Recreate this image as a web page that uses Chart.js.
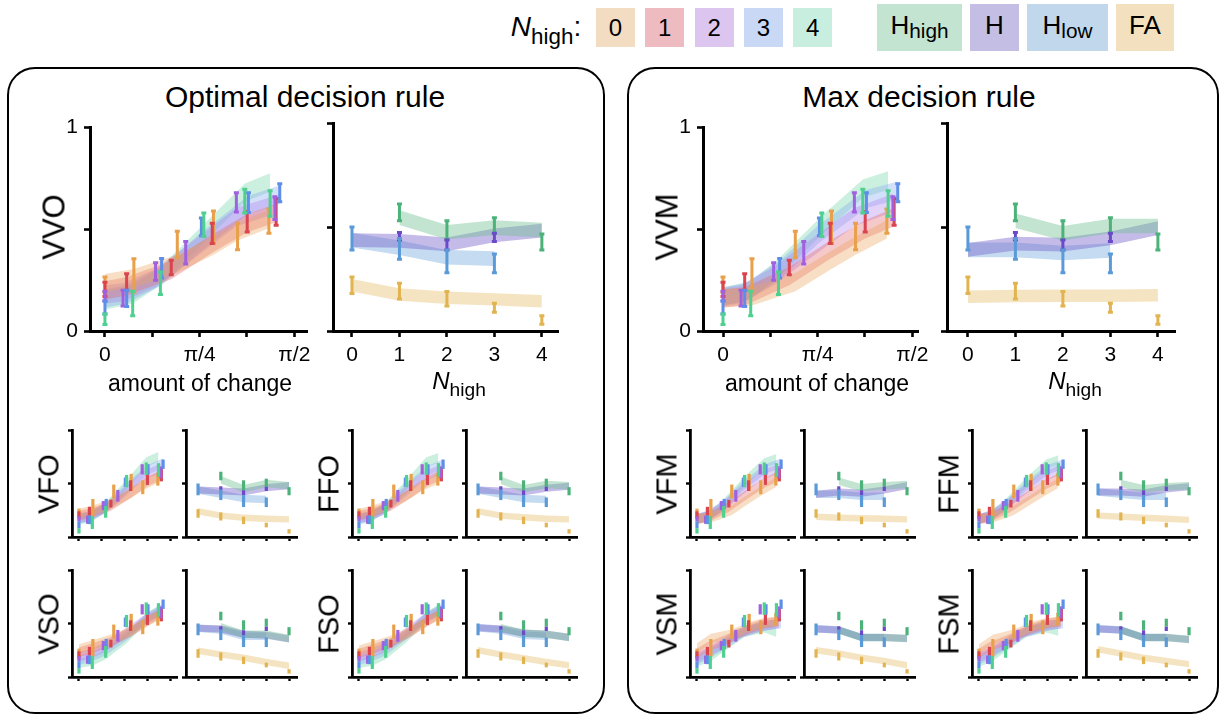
<!DOCTYPE html>
<html>
<head>
<meta charset="utf-8">
<script src="https://cdn.jsdelivr.net/npm/chart.js@4"></script>
<style>
  body { margin: 0; background: #fff; width: 1225px; height: 717px; overflow: hidden; position: relative;
         font-family: "Liberation Sans", Arial, Helvetica, sans-serif; color: #000; }
  .abs { position: absolute; }
  .panel { position: absolute; border: 2px solid #000; border-radius: 28px; box-sizing: border-box; }
  .t { position: absolute; white-space: nowrap; line-height: 1; transform: translate(-50%, -50%); }
  .rot { transform: translate(-50%, -50%) rotate(-90deg); }
  .key { position: absolute; display: flex; align-items: center; justify-content: center; line-height: 1; white-space: nowrap; }
  .sb { font-size: 0.8em; position: relative; top: 0.34em; }
</style>
</head>
<body>
<script>
// ---- human data (same in every panel) ----
const nhGroups = ['0', '1', '2', '3', '4'];
// amount of change (radians) per N_high group
const changeX = [
  [0, 0.24, 0.60, 0.90, 1.10, 1.36],
  [0, 0.18, 0.55, 0.89, 1.18, 1.42],
  [0, 0.15, 0.42, 0.67, 1.09, 1.41],
  [0, 0.18, 0.47, 0.80, 1.19, 1.45],
  [0, 0.23, 0.46, 0.82, 1.16, 1.37]
];
const changeLo = [
  [0.19, 0.19, 0.36, 0.43, 0.40, 0.48],
  [0.17, 0.20, 0.276, 0.43, 0.487, 0.52],
  [0.147, 0.123, 0.25, 0.33, 0.585, 0.548],
  [0.083, 0.12, 0.26, 0.468, 0.583, 0.636],
  [0.032, 0.075, 0.18, 0.465, 0.58, 0.564]
];
const changeHi = [
  [0.265, 0.355, 0.49, 0.59, 0.53, 0.60],
  [0.24, 0.282, 0.348, 0.53, 0.588, 0.652],
  [0.195, 0.20, 0.336, 0.44, 0.68, 0.66],
  [0.147, 0.20, 0.356, 0.556, 0.68, 0.724],
  [0.083, 0.195, 0.29, 0.58, 0.697, 0.69]
];
// rates vs N_high
const rateNames = ['Hhigh', 'H', 'Hlow', 'FA'];
const rateX = [[1, 2, 3, 4], [1, 2, 3], [0, 1, 2, 3], [0, 1, 2, 3, 4]];
const rateLo = [[0.53, 0.44, 0.47, 0.39], [0.437, 0.39, 0.43], [0.39, 0.345, 0.28, 0.28], [0.18, 0.154, 0.12, 0.09, 0.032]];
const rateHi = [[0.61, 0.53, 0.545, 0.466], [0.474, 0.437, 0.47], [0.50, 0.445, 0.39, 0.37], [0.26, 0.23, 0.19, 0.134, 0.073]];
const rateBandX = [[1, 2, 3, 4], [0, 1, 2, 3, 4], [0, 1, 2, 3], [0, 1, 2, 3, 4]];

// ---- model fits (band centres) ----
const changeHalf = 0.045;
const rateHalf = [0.035, 0.033, 0.035, 0.03];

const changeVVO = [[0.235, 0.26, 0.33, 0.42, 0.49, 0.55], [0.20, 0.22, 0.30, 0.43, 0.53, 0.58], [0.18, 0.19, 0.26, 0.37, 0.56, 0.62], [0.16, 0.18, 0.27, 0.44, 0.62, 0.67], [0.15, 0.18, 0.27, 0.48, 0.68, 0.73]];
const changeVFO = [[0.22, 0.25, 0.32, 0.41, 0.48, 0.55], [0.20, 0.22, 0.29, 0.41, 0.52, 0.58], [0.18, 0.19, 0.26, 0.36, 0.57, 0.64], [0.17, 0.19, 0.27, 0.45, 0.63, 0.69], [0.16, 0.19, 0.28, 0.49, 0.70, 0.75]];
const changeFFO = [[0.22, 0.25, 0.32, 0.41, 0.48, 0.54], [0.20, 0.22, 0.29, 0.41, 0.52, 0.58], [0.18, 0.19, 0.25, 0.36, 0.56, 0.63], [0.17, 0.19, 0.27, 0.45, 0.62, 0.68], [0.16, 0.19, 0.28, 0.49, 0.70, 0.74]];
const changeVSO = [[0.26, 0.30, 0.36, 0.43, 0.50, 0.57], [0.23, 0.26, 0.33, 0.42, 0.52, 0.60], [0.19, 0.21, 0.27, 0.36, 0.52, 0.61], [0.16, 0.18, 0.25, 0.38, 0.56, 0.64], [0.13, 0.15, 0.21, 0.36, 0.55, 0.62]];
const changeFSO = [[0.25, 0.29, 0.35, 0.43, 0.50, 0.57], [0.22, 0.25, 0.32, 0.42, 0.52, 0.60], [0.19, 0.21, 0.27, 0.36, 0.53, 0.62], [0.16, 0.18, 0.25, 0.39, 0.57, 0.65], [0.13, 0.15, 0.21, 0.37, 0.56, 0.63]];
const changeVVM = [[0.16, 0.17, 0.24, 0.35, 0.42, 0.50], [0.16, 0.17, 0.27, 0.40, 0.50, 0.56], [0.165, 0.18, 0.27, 0.38, 0.56, 0.63], [0.17, 0.19, 0.30, 0.48, 0.65, 0.69], [0.17, 0.20, 0.31, 0.52, 0.70, 0.74]];
const changeVFM = [[0.17, 0.18, 0.25, 0.36, 0.43, 0.51], [0.17, 0.18, 0.28, 0.41, 0.51, 0.57], [0.17, 0.19, 0.27, 0.39, 0.57, 0.64], [0.17, 0.20, 0.30, 0.48, 0.64, 0.69], [0.17, 0.20, 0.31, 0.52, 0.69, 0.73]];
const changeFFM = [[0.17, 0.18, 0.25, 0.35, 0.42, 0.50], [0.17, 0.18, 0.28, 0.40, 0.50, 0.56], [0.17, 0.19, 0.27, 0.39, 0.56, 0.63], [0.17, 0.20, 0.30, 0.47, 0.63, 0.68], [0.17, 0.20, 0.31, 0.51, 0.68, 0.72]];
const changeVSM = [[0.27, 0.36, 0.40, 0.47, 0.50, 0.52], [0.22, 0.28, 0.36, 0.45, 0.50, 0.52], [0.18, 0.22, 0.30, 0.40, 0.47, 0.50], [0.16, 0.21, 0.30, 0.42, 0.48, 0.50], [0.14, 0.19, 0.28, 0.42, 0.46, 0.42]];
const changeFSM = [[0.26, 0.35, 0.40, 0.47, 0.50, 0.52], [0.22, 0.28, 0.36, 0.45, 0.50, 0.52], [0.18, 0.22, 0.30, 0.40, 0.47, 0.50], [0.16, 0.21, 0.30, 0.42, 0.48, 0.50], [0.14, 0.19, 0.28, 0.42, 0.46, 0.43]];

const rateVVO = [[0.545, 0.475, 0.497, 0.485], [0.437, 0.433, 0.417, 0.46, 0.483], [0.437, 0.40, 0.355, 0.348], [0.22, 0.175, 0.16, 0.152, 0.143]];
const rateVFO = [[0.535, 0.45, 0.50, 0.48], [0.44, 0.43, 0.42, 0.46, 0.48], [0.44, 0.40, 0.36, 0.35], [0.24, 0.20, 0.18, 0.17, 0.165]];
const rateFFO = [[0.53, 0.45, 0.49, 0.48], [0.44, 0.43, 0.42, 0.455, 0.475], [0.44, 0.40, 0.36, 0.35], [0.24, 0.20, 0.185, 0.17, 0.165]];
const rateVSO = [[0.47, 0.40, 0.40, 0.36], [0.455, 0.45, 0.40, 0.39, 0.355], [0.455, 0.44, 0.38, 0.38], [0.245, 0.21, 0.18, 0.14, 0.105]];
const rateFSO = [[0.46, 0.41, 0.40, 0.37], [0.46, 0.45, 0.41, 0.40, 0.37], [0.46, 0.44, 0.39, 0.38], [0.25, 0.21, 0.175, 0.14, 0.11]];
const rateVVM = [[0.53, 0.47, 0.505, 0.505], [0.39, 0.42, 0.415, 0.445, 0.495], [0.39, 0.39, 0.375, 0.387], [0.165, 0.168, 0.17, 0.17, 0.172]];
const rateVFM = [[0.52, 0.46, 0.48, 0.49], [0.40, 0.42, 0.41, 0.44, 0.48], [0.40, 0.40, 0.38, 0.38], [0.19, 0.18, 0.175, 0.17, 0.165]];
const rateFFM = [[0.50, 0.45, 0.47, 0.48], [0.42, 0.42, 0.41, 0.45, 0.47], [0.42, 0.40, 0.38, 0.38], [0.20, 0.19, 0.18, 0.17, 0.16]];
const rateVSM = [[0.44, 0.37, 0.37, 0.36], [0.45, 0.44, 0.37, 0.37, 0.36], [0.45, 0.44, 0.37, 0.37], [0.25, 0.22, 0.18, 0.15, 0.11]];
const rateFSM = [[0.44, 0.37, 0.37, 0.35], [0.45, 0.44, 0.37, 0.37, 0.35], [0.45, 0.44, 0.37, 0.37], [0.26, 0.22, 0.18, 0.15, 0.12]];

const changeTicks = [0, Math.PI / 8, Math.PI / 4, 3 * Math.PI / 8, Math.PI / 2];
const changeTickLabels = ['0', '', 'π/4', '', 'π/2'];
const rateTicks = [0, 1, 2, 3, 4];
const rateTickLabels = ['0', '1', '2', '3', '4'];

// ---- colours ----
const groupBar = ['#e8a04a', '#d9444e', '#a060e0', '#5e8ee8', '#4fd08f'];
const groupBand = ['rgba(236,160,90,0.35)', 'rgba(226,100,100,0.35)', 'rgba(175,130,235,0.35)', 'rgba(130,165,240,0.35)', 'rgba(120,215,170,0.38)'];
const rateBar = ['#4cb27a', '#6a4ac8', '#5a9ad8', '#e2b450'];
const rateBand = ['rgba(110,190,145,0.42)', 'rgba(125,105,205,0.45)', 'rgba(125,175,225,0.45)', 'rgba(232,195,120,0.45)'];

const FONT = '"Liberation Sans", Arial, Helvetica, sans-serif';

const errorBars = {
  id: 'errorBars',
  afterDatasetsDraw(chart) {
    const ctx = chart.ctx, ys = chart.scales.y;
    chart.data.datasets.forEach((ds, i) => {
      if (!ds.errorBars) return;
      const meta = chart.getDatasetMeta(i);
      ctx.save();
      ctx.strokeStyle = ds.errColor;
      ctx.lineWidth = ds.errWidth;
      meta.data.forEach((pt, j) => {
        const d = ds.data[j];
        const y1 = ys.getPixelForValue(d.lo), y2 = ys.getPixelForValue(d.hi);
        ctx.beginPath();
        ctx.moveTo(pt.x, y1); ctx.lineTo(pt.x, y2);
        if (ds.cap) {
          ctx.moveTo(pt.x - ds.cap, y1); ctx.lineTo(pt.x + ds.cap, y1);
          ctx.moveTo(pt.x - ds.cap, y2); ctx.lineTo(pt.x + ds.cap, y2);
        }
        ctx.stroke();
      });
      ctx.restore();
    });
  }
};

function bandSets(xs, mids, half, color) {
  const lower = { data: xs.map((x, i) => ({ x: x, y: mids[i] - half })), borderWidth: 0, pointRadius: 0, fill: false, tension: 0 };
  const upper = { data: xs.map((x, i) => ({ x: x, y: mids[i] + half })), borderWidth: 0, pointRadius: 0, fill: '-1', backgroundColor: color, tension: 0 };
  return [lower, upper];
}

function barSet(xs, lo, hi, color, big) {
  return {
    data: xs.map((x, i) => ({ x: x, y: (lo[i] + hi[i]) / 2, lo: lo[i], hi: hi[i] })),
    showLine: false, pointRadius: 0, errorBars: true, errColor: color,
    errWidth: big ? 3 : 3.2, cap: big ? 2.5 : 0
  };
}

function makeChart(c) {
  const padL = c.big ? 40 : 10, padT = 14, padR = 20, padB = c.big ? 40 : 12;
  const w = c.right - c.axisX + padL + padR, h = c.bottom - c.top + padT + padB;
  const div = document.createElement('div');
  div.className = 'abs';
  div.style.left = (c.axisX - padL) + 'px';
  div.style.top = (c.top - padT) + 'px';
  const cv = document.createElement('canvas');
  cv.width = w; cv.height = h;
  div.appendChild(cv);
  document.body.appendChild(div);
  const lw = c.big ? 3 : 2.8, tl = c.big ? 6 : 4;
  new Chart(cv, {
    type: 'line',
    data: { datasets: c.datasets },
    plugins: [errorBars],
    options: {
      responsive: false, animation: false, devicePixelRatio: 1,
      layout: { padding: { top: padT, right: padR, left: 0, bottom: 0 } },
      plugins: { legend: { display: false }, tooltip: { enabled: false } },
      scales: {
        x: {
          type: 'linear', min: c.xmin, max: c.xmax,
          border: { color: '#000', width: lw },
          grid: { drawOnChartArea: false, drawTicks: true, tickLength: tl, tickWidth: lw - 0.4, color: '#000' },
          afterBuildTicks: s => { s.ticks = c.xticks.map(v => ({ value: v })); },
          ticks: {
            display: c.big, autoSkip: false, maxRotation: 0, padding: 6, color: '#000',
            font: { family: FONT, size: 21 },
            callback: (v, i) => c.xlabels[i]
          },
          afterFit: s => { s.height = padB; }
        },
        y: {
          min: 0, max: 1,
          border: { color: '#000', width: lw },
          grid: { drawOnChartArea: false, drawTicks: true, tickLength: tl, tickWidth: lw - 0.4, color: '#000' },
          afterBuildTicks: s => { s.ticks = [0, 0.5, 1].map(v => ({ value: v })); },
          ticks: {
            display: !!c.ylabels, autoSkip: false, padding: 6, color: '#000',
            font: { family: FONT, size: 21 },
            callback: (v, i) => c.ylabels ? c.ylabels[i] : ''
          },
          afterFit: s => { s.width = padL; }
        }
      }
    }
  });
}

function changeChart(bands, pos, big, ylab) {
  let ds = [];
  nhGroups.forEach((g, k) => { ds = ds.concat(bandSets(changeX[k], bands[k], changeHalf, groupBand[k])); });
  nhGroups.forEach((g, k) => { ds.push(barSet(changeX[k], changeLo[k], changeHi[k], groupBar[k], big)); });
  makeChart(Object.assign({ big: big, datasets: ds, xticks: changeTicks, xlabels: changeTickLabels, ylabels: ylab ? ['0', '', '1'] : null }, pos));
}

function rateChart(bands, pos, big) {
  let ds = [];
  rateNames.forEach((r, k) => { ds = ds.concat(bandSets(rateBandX[k], bands[k], rateHalf[k], rateBand[k])); });
  rateNames.forEach((r, k) => { ds.push(barSet(rateX[k], rateLo[k], rateHi[k], rateBar[k], big)); });
  makeChart(Object.assign({ big: big, datasets: ds, xticks: rateTicks, xlabels: rateTickLabels, ylabels: null }, pos));
}

function addHTML(cls, html, x, y, size, extra) {
  const el = document.createElement('div');
  el.className = cls;
  el.innerHTML = html;
  el.style.left = x + 'px';
  el.style.top = y + 'px';
  el.style.fontSize = size + 'px';
  if (extra) Object.assign(el.style, extra);
  document.body.appendChild(el);
  return el;
}

// panels
addHTML('panel', '', 7, 67, 0, { width: '598px', height: '647px' });
addHTML('panel', '', 627, 67, 0, { width: '592px', height: '647px' });
addHTML('t', 'Optimal decision rule', 305, 97, 30);
addHTML('t', 'Max decision rule', 919, 97, 30);

// legend
addHTML('t', '<i>N</i><span class="sb">high</span>:', 546, 27, 28);
const keyColors = ['#f2dcc2', '#eebcc0', '#dcc6f0', '#c9d8f5', '#c7eedf'];
nhGroups.forEach((g, i) => {
  addHTML('key', g, 596 + i * 49.3, 8, 24, { width: '39px', height: '39px', background: keyColors[i] });
});
const rateKeys = [
  { html: 'H<span class="sb">high</span>', x: 877, w: 85, c: '#c2e4d1' },
  { html: 'H', x: 970, w: 49, c: '#c4bee4' },
  { html: 'H<span class="sb">low</span>', x: 1027, w: 81, c: '#c1d8ec' },
  { html: 'FA', x: 1116, w: 58, c: '#f3e0bf' }
];
rateKeys.forEach(k => {
  addHTML('key', k.html, k.x, 4, 26, { width: k.w + 'px', height: '47px', background: k.c, paddingBottom: '6px', boxSizing: 'border-box' });
});

// big charts
changeChart(changeVVO, { axisX: 90, right: 307, top: 123, bottom: 331, xmin: -0.124, xmax: 1.676 }, true, true);
rateChart(rateVVO, { axisX: 333, right: 558, top: 123, bottom: 331, xmin: -0.4, xmax: 4.34 }, true);
changeChart(changeVVM, { axisX: 703, right: 918, top: 123, bottom: 331, xmin: -0.166, xmax: 1.618 }, true, true);
rateChart(rateVVM, { axisX: 947, right: 1175, top: 123, bottom: 331, xmin: -0.44, xmax: 4.36 }, true);

addHTML('t rot', 'VVO', 54, 227, 31);
addHTML('t rot', 'VVM', 667, 227, 31);
addHTML('t', 'amount of change', 200, 383, 23);
addHTML('t', 'amount of change', 817, 383, 23);
addHTML('t', '<i>N</i><span class="sb">high</span>', 459, 381, 24);
addHTML('t', '<i>N</i><span class="sb">high</span>', 1075, 381, 24);

// small charts
const smallRows = [{ top: 430, bottom: 537 }, { top: 570, bottom: 677 }];
const smallCols = [72, 352, 690, 972];
const smallModels = [
  ['VFO', 'FFO', 'VFM', 'FFM'],
  ['VSO', 'FSO', 'VSM', 'FSM']
];
const changeByModel = { VFO: changeVFO, FFO: changeFFO, VSO: changeVSO, FSO: changeFSO, VFM: changeVFM, FFM: changeFFM, VSM: changeVSM, FSM: changeFSM };
const rateByModel = { VFO: rateVFO, FFO: rateFFO, VSO: rateVSO, FSO: rateFSO, VFM: rateVFM, FFM: rateFFM, VSM: rateVSM, FSM: rateFSM };

smallModels.forEach((row, r) => {
  row.forEach((m, c) => {
    const a = smallCols[c], b = a + 114, R = smallRows[r];
    changeChart(changeByModel[m], { axisX: a, right: a + 105, top: R.top, bottom: R.bottom, xmin: -0.12, xmax: 1.69 }, false, false);
    rateChart(rateByModel[m], { axisX: b, right: b + 111, top: R.top, bottom: R.bottom, xmin: -0.53, xmax: 4.35 }, false);
    addHTML('t rot', m, a - 23, (R.top + R.bottom) / 2, 29);
  });
});
</script>
</body>
</html>
